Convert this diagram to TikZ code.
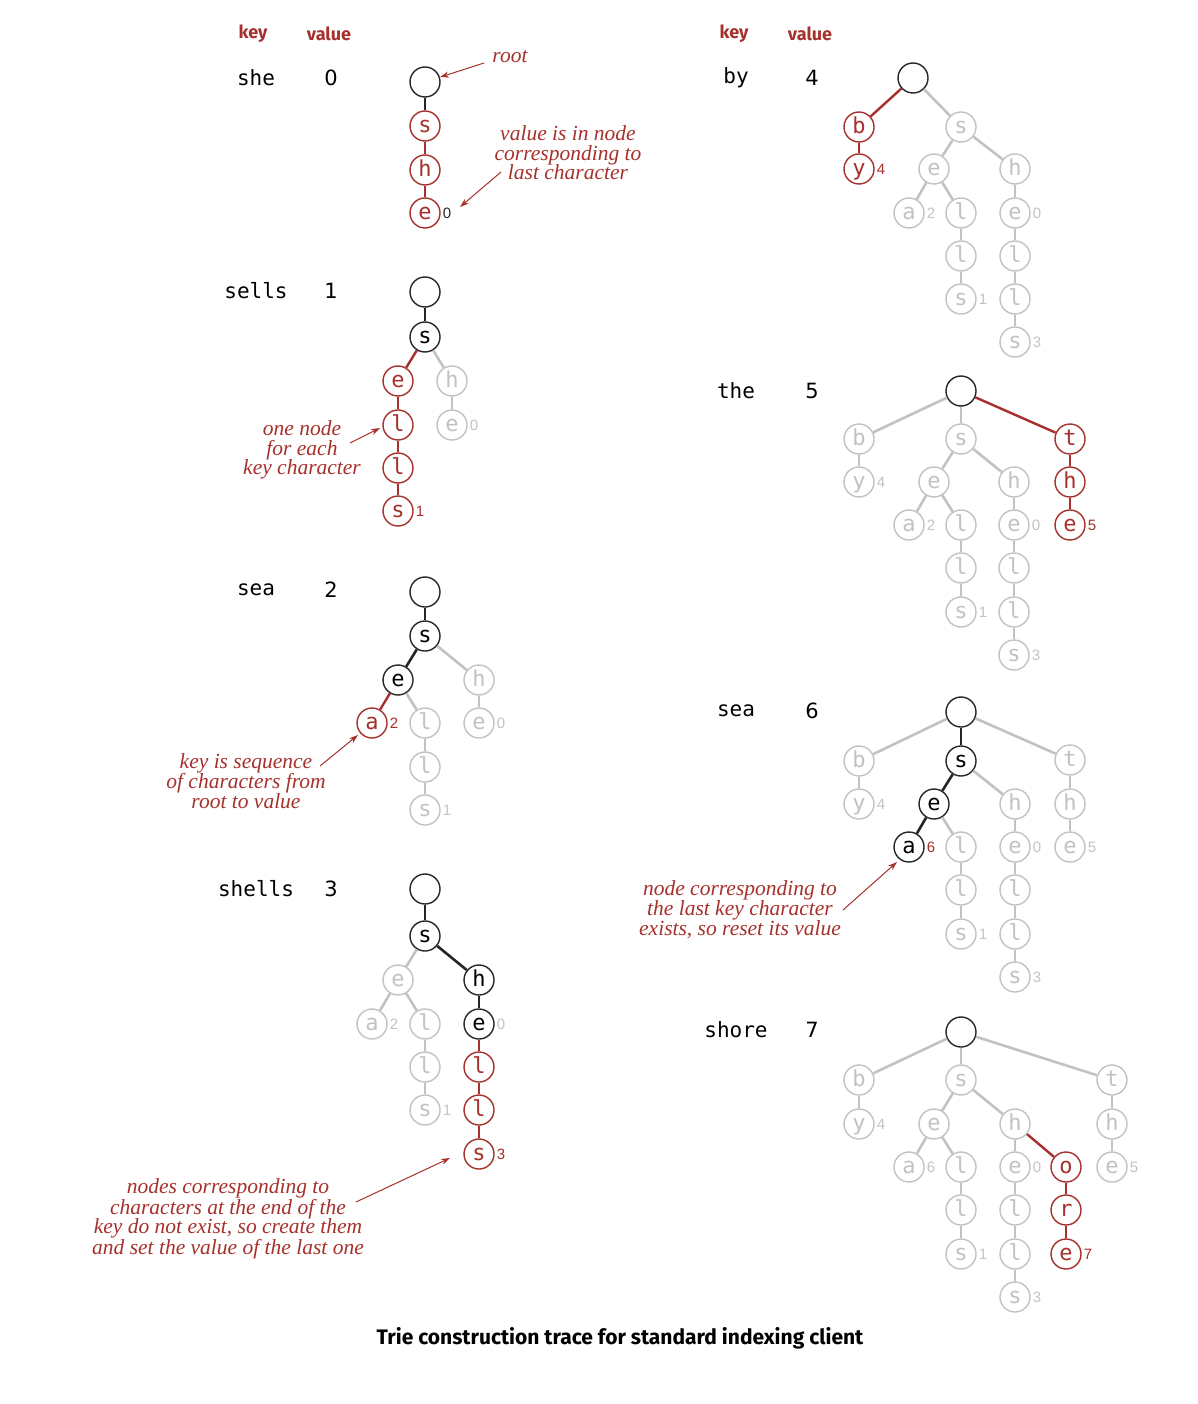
\documentclass[tikz,border=0pt]{standalone}
\usepackage{fontspec}
\setmainfont{Liberation Serif}
\newfontfamily\keyfnt{DejaVu Sans Mono}
\newfontfamily\digfnt{DejaVu Sans}
\newfontfamily\valfnt{Liberation Sans}
\newfontfamily\capfnt{Fira Sans}
\usetikzlibrary{arrows.meta}
\definecolor{trred}{HTML}{A6302B}
\definecolor{trgray}{HTML}{C2C2C2}
\definecolor{trblack}{HTML}{262626}
\begin{document}
\begin{tikzpicture}[x=1pt,y=-1pt,
  nd/.style={circle,minimum size=30pt,inner sep=0pt,line width=1.4pt,fill=white,
    font=\keyfnt\fontsize{22}{24}\selectfont,text height=14.5pt,text depth=1.5pt},
  bk/.style={nd,draw=trblack,text=black},
  rd/.style={nd,draw=trred,text=trred},
  gr/.style={nd,draw=trgray,text=trgray},
  ebk/.style={draw=trblack,line width=2.6pt},
  erd/.style={draw=trred,line width=2.4pt},
  egr/.style={draw=trgray,line width=2.6pt},
  vl/.style={anchor=west,inner sep=2pt,font=\valfnt\fontsize{15}{16}\selectfont},
  vr/.style={vl,text=trred},
  vg/.style={vl,text=trgray},
  vb/.style={vl,text=trblack},
  hdr/.style={font=\capfnt\bfseries\fontsize{18}{20}\selectfont,text=trred},
  kw/.style={font=\keyfnt\fontsize{21}{24}\selectfont,text=black},
  kv/.style={font=\digfnt\fontsize{21}{24}\selectfont,text=black},
  ann/.style={align=center,text=trred,font=\itshape\fontsize{21.5}{19.5}\selectfont,inner sep=0pt},
  arr/.style={draw=trred,line width=1pt,-{Stealth[length=9pt,width=6pt]}}
]
\useasboundingbox (0,0) rectangle (1198,1404);

% ---------- headers ----------
\node[hdr] (hk1) at (253,34) {key};
\node[hdr] (hv1) at (329,34) {value};
\node[hdr] (hk2) at (734,34) {key};
\node[hdr] (hv2) at (810,34) {value};

% ---------- keys and values ----------
\node[kw] (k1) at (256,78) {she};   \node[kv] (v1) at (331,78) {0};
\node[kw] (k2) at (256,291) {sells}; \node[kv] (v2) at (331,291) {1};
\node[kw] (k3) at (256,590) {sea};   \node[kv] (v3) at (331,590) {2};
\node[kw] (k4) at (256,889) {shells};\node[kv] (v4) at (331,889) {3};
\node[kw] (k5) at (736,78) {by};     \node[kv] (v5) at (812,78) {4};
\node[kw] (k6) at (736,391) {the};   \node[kv] (v6) at (812,391) {5};
\node[kw] (k7) at (736,711) {sea};   \node[kv] (v7) at (812,711) {6};
\node[kw] (k8) at (736,1030) {shore};\node[kv] (v8) at (812,1030) {7};

% ---------- tree A: she ----------
\node[bk] (Ar) at (425,82) {};
\node[rd] (As) at (425,126) {s};
\node[rd] (Ah) at (425,170) {h};
\node[rd] (Ae) at (425,213) {e};
\node[vb] (Aev) at (Ae.east) {0};
\draw[ebk] (Ar)--(As);
\draw[erd] (As)--(Ah);
\draw[erd] (Ah)--(Ae);

% ---------- tree B: sells ----------
\node[bk] (Br) at (425,292) {};
\node[bk] (Bs) at (425,337) {s};
\node[rd] (Be) at (398,381) {e};
\node[gr] (Bh) at (452,381) {h};
\node[rd] (Bl1) at (398,425) {l};
\node[gr] (Be2) at (452,425) {e};
\node[rd] (Bl2) at (398,468) {l};
\node[rd] (Bs2) at (398,511) {s};
\node[vg] (Be2v) at (Be2.east) {0};
\node[vr] (Bs2v) at (Bs2.east) {1};
\draw[ebk] (Br)--(Bs);
\draw[erd] (Bs)--(Be);
\draw[egr] (Bs)--(Bh);
\draw[egr] (Bh)--(Be2);
\draw[erd] (Be)--(Bl1);
\draw[erd] (Bl1)--(Bl2);
\draw[erd] (Bl2)--(Bs2);

% ---------- tree C: sea 2 ----------
\node[bk] (Cr) at (425,592) {};
\node[bk] (Cs) at (425,636) {s};
\node[bk] (Ce) at (398,680) {e};
\node[gr] (Ch) at (479,680) {h};
\node[rd] (Ca) at (372,723) {a};
\node[gr] (Cl1) at (425,723) {l};
\node[gr] (Ce2) at (479,723) {e};
\node[gr] (Cl2) at (425,767) {l};
\node[gr] (Cs2) at (425,810) {s};
\node[vr] (Cav) at (Ca.east) {2};
\node[vg] (Ce2v) at (Ce2.east) {0};
\node[vg] (Cs2v) at (Cs2.east) {1};
\draw[ebk] (Cr)--(Cs);
\draw[ebk] (Cs)--(Ce);
\draw[egr] (Cs)--(Ch);
\draw[erd] (Ce)--(Ca);
\draw[egr] (Ce)--(Cl1);
\draw[egr] (Ch)--(Ce2);
\draw[egr] (Cl1)--(Cl2);
\draw[egr] (Cl2)--(Cs2);

% ---------- tree D: shells ----------
\node[bk] (Dr) at (425,889) {};
\node[bk] (Ds) at (425,936) {s};
\node[gr] (De) at (398,980) {e};
\node[bk] (Dh) at (479,980) {h};
\node[gr] (Da) at (372,1024) {a};
\node[gr] (Dl1) at (425,1024) {l};
\node[bk] (De2) at (479,1024) {e};
\node[gr] (Dl2) at (425,1067) {l};
\node[gr] (Ds2) at (425,1110) {s};
\node[rd] (Dl3) at (479,1067) {l};
\node[rd] (Dl4) at (479,1110) {l};
\node[rd] (Ds3) at (479,1154) {s};
\node[vg] (Dav) at (Da.east) {2};
\node[vg] (De2v) at (De2.east) {0};
\node[vg] (Ds2v) at (Ds2.east) {1};
\node[vr] (Ds3v) at (Ds3.east) {3};
\draw[ebk] (Dr)--(Ds);
\draw[egr] (Ds)--(De);
\draw[ebk] (Ds)--(Dh);
\draw[ebk] (Dh)--(De2);
\draw[egr] (De)--(Da);
\draw[egr] (De)--(Dl1);
\draw[egr] (Dl1)--(Dl2);
\draw[egr] (Dl2)--(Ds2);
\draw[erd] (De2)--(Dl3);
\draw[erd] (Dl3)--(Dl4);
\draw[erd] (Dl4)--(Ds3);

% ---------- tree E: by ----------
\node[bk] (Er) at (913,78) {};
\node[rd] (Eb) at (859,127) {b};
\node[gr] (Es) at (961,127) {s};
\node[rd] (Ey) at (859,169) {y};
\node[gr] (Ee) at (934,169) {e};
\node[gr] (Eh) at (1015,169) {h};
\node[gr] (Ea) at (909,213) {a};
\node[gr] (El1) at (961,213) {l};
\node[gr] (Ee2) at (1015,213) {e};
\node[gr] (El2) at (961,256) {l};
\node[gr] (El3) at (1015,256) {l};
\node[gr] (Es2) at (961,299) {s};
\node[gr] (El4) at (1015,299) {l};
\node[gr] (Es3) at (1015,342) {s};
\node[vr] (Eyv) at (Ey.east) {4};
\node[vg] (Eav) at (Ea.east) {2};
\node[vg] (Ee2v) at (Ee2.east) {0};
\node[vg] (Es2v) at (Es2.east) {1};
\node[vg] (Es3v) at (Es3.east) {3};
\draw[erd] (Er)--(Eb);
\draw[erd] (Eb)--(Ey);
\draw[egr] (Er)--(Es);
\draw[egr] (Es)--(Ee);
\draw[egr] (Es)--(Eh);
\draw[egr] (Ee)--(Ea);
\draw[egr] (Ee)--(El1);
\draw[egr] (El1)--(El2);
\draw[egr] (El2)--(Es2);
\draw[egr] (Eh)--(Ee2);
\draw[egr] (Ee2)--(El3);
\draw[egr] (El3)--(El4);
\draw[egr] (El4)--(Es3);

% ---------- tree F: the ----------
\node[bk] (Fr) at (961,391) {};
\node[gr] (Fb) at (859,439) {b};
\node[gr] (Fs) at (961,439) {s};
\node[rd] (Ft) at (1070,439) {t};
\node[gr] (Fy) at (859,482) {y};
\node[gr] (Fe) at (934,482) {e};
\node[gr] (Fh) at (1014,482) {h};
\node[rd] (Fth) at (1070,482) {h};
\node[gr] (Fa) at (909,525) {a};
\node[gr] (Fl1) at (961,525) {l};
\node[gr] (Fe2) at (1014,525) {e};
\node[rd] (Fte) at (1070,525) {e};
\node[gr] (Fl2) at (961,568) {l};
\node[gr] (Fl3) at (1014,568) {l};
\node[gr] (Fs2) at (961,612) {s};
\node[gr] (Fl4) at (1014,612) {l};
\node[gr] (Fs3) at (1014,655) {s};
\node[vg] (Fyv) at (Fy.east) {4};
\node[vg] (Fav) at (Fa.east) {2};
\node[vg] (Fe2v) at (Fe2.east) {0};
\node[vr] (Ftev) at (Fte.east) {5};
\node[vg] (Fs2v) at (Fs2.east) {1};
\node[vg] (Fs3v) at (Fs3.east) {3};
\draw[egr] (Fr)--(Fb);
\draw[egr] (Fr)--(Fs);
\draw[erd] (Fr)--(Ft);
\draw[egr] (Fb)--(Fy);
\draw[egr] (Fs)--(Fe);
\draw[egr] (Fs)--(Fh);
\draw[erd] (Ft)--(Fth);
\draw[erd] (Fth)--(Fte);
\draw[egr] (Fe)--(Fa);
\draw[egr] (Fe)--(Fl1);
\draw[egr] (Fl1)--(Fl2);
\draw[egr] (Fl2)--(Fs2);
\draw[egr] (Fh)--(Fe2);
\draw[egr] (Fe2)--(Fl3);
\draw[egr] (Fl3)--(Fl4);
\draw[egr] (Fl4)--(Fs3);

% ---------- tree G: sea 6 ----------
\node[bk] (Gr) at (961,712) {};
\node[gr] (Gb) at (859,761) {b};
\node[bk] (Gs) at (961,761) {s};
\node[gr] (Gt) at (1070,760) {t};
\node[gr] (Gy) at (859,804) {y};
\node[bk] (Ge) at (934,804) {e};
\node[gr] (Gh) at (1015,804) {h};
\node[gr] (Gth) at (1070,804) {h};
\node[bk] (Ga) at (909,847) {a};
\node[gr] (Gl1) at (961,847) {l};
\node[gr] (Ge2) at (1015,847) {e};
\node[gr] (Gte) at (1070,847) {e};
\node[gr] (Gl2) at (961,890) {l};
\node[gr] (Gl3) at (1015,890) {l};
\node[gr] (Gs2) at (961,934) {s};
\node[gr] (Gl4) at (1015,934) {l};
\node[gr] (Gs3) at (1015,977) {s};
\node[vg] (Gyv) at (Gy.east) {4};
\node[vr] (Gav) at (Ga.east) {6};
\node[vg] (Ge2v) at (Ge2.east) {0};
\node[vg] (Gtev) at (Gte.east) {5};
\node[vg] (Gs2v) at (Gs2.east) {1};
\node[vg] (Gs3v) at (Gs3.east) {3};
\draw[egr] (Gr)--(Gb);
\draw[ebk] (Gr)--(Gs);
\draw[egr] (Gr)--(Gt);
\draw[egr] (Gb)--(Gy);
\draw[ebk] (Gs)--(Ge);
\draw[egr] (Gs)--(Gh);
\draw[egr] (Gt)--(Gth);
\draw[egr] (Gth)--(Gte);
\draw[ebk] (Ge)--(Ga);
\draw[egr] (Ge)--(Gl1);
\draw[egr] (Gl1)--(Gl2);
\draw[egr] (Gl2)--(Gs2);
\draw[egr] (Gh)--(Ge2);
\draw[egr] (Ge2)--(Gl3);
\draw[egr] (Gl3)--(Gl4);
\draw[egr] (Gl4)--(Gs3);

% ---------- tree H: shore ----------
\node[bk] (Hr) at (961,1032) {};
\node[gr] (Hb) at (859,1080) {b};
\node[gr] (Hs) at (961,1080) {s};
\node[gr] (Ht) at (1112,1080) {t};
\node[gr] (Hy) at (859,1124) {y};
\node[gr] (He) at (934,1124) {e};
\node[gr] (Hh) at (1015,1124) {h};
\node[gr] (Hth) at (1112,1124) {h};
\node[gr] (Ha) at (909,1167) {a};
\node[gr] (Hl1) at (961,1167) {l};
\node[gr] (He2) at (1015,1167) {e};
\node[rd] (Ho) at (1066,1167) {o};
\node[gr] (Hte) at (1112,1167) {e};
\node[gr] (Hl2) at (961,1210) {l};
\node[gr] (Hl3) at (1015,1210) {l};
\node[rd] (Hor) at (1066,1210) {r};
\node[gr] (Hs2) at (961,1254) {s};
\node[gr] (Hl4) at (1015,1254) {l};
\node[rd] (Hore) at (1066,1254) {e};
\node[gr] (Hs3) at (1015,1297) {s};
\node[vg] (Hyv) at (Hy.east) {4};
\node[vg] (Hav) at (Ha.east) {6};
\node[vg] (He2v) at (He2.east) {0};
\node[vg] (Htev) at (Hte.east) {5};
\node[vr] (Horev) at (Hore.east) {7};
\node[vg] (Hs2v) at (Hs2.east) {1};
\node[vg] (Hs3v) at (Hs3.east) {3};
\draw[egr] (Hr)--(Hb);
\draw[egr] (Hr)--(Hs);
\draw[egr] (Hr)--(Ht);
\draw[egr] (Hb)--(Hy);
\draw[egr] (Hs)--(He);
\draw[egr] (Hs)--(Hh);
\draw[egr] (Ht)--(Hth);
\draw[egr] (Hth)--(Hte);
\draw[egr] (He)--(Ha);
\draw[egr] (He)--(Hl1);
\draw[egr] (Hl1)--(Hl2);
\draw[egr] (Hl2)--(Hs2);
\draw[egr] (Hh)--(He2);
\draw[egr] (He2)--(Hl3);
\draw[egr] (Hl3)--(Hl4);
\draw[egr] (Hl4)--(Hs3);
\draw[erd] (Hh)--(Ho);
\draw[erd] (Ho)--(Hor);
\draw[erd] (Hor)--(Hore);

% ---------- annotations ----------
\node[ann] (n1) at (510,57) {root};
\coordinate (n1a) at (484,63);
\draw[arr] (n1a) -- (Ar);

\node[ann] (n2) at (568,153) {value is in node\\corresponding to\\last character};
\coordinate (n2a) at (501,172);
\coordinate (n2b) at (460,207);
\draw[arr] (n2a) -- (n2b);

\node[ann] (n3) at (302,450) {one node\\for each\\key character};
\coordinate (n3a) at (350,443);
\coordinate (n3b) at (380,428);
\draw[arr] (n3a) -- (n3b);

\node[ann] (n4) at (246,781) {key is sequence\\of characters from\\root to value};
\coordinate (n4a) at (320,766);
\coordinate (n4b) at (358,735);
\draw[arr] (n4a) -- (n4b);

\node[ann] (n5) at (228,1219) {nodes corresponding to\\characters at the end of the\\key do not exist, so create them\\and set the value of the last one};
\coordinate (n5a) at (356,1202);
\coordinate (n5b) at (450,1158);
\draw[arr] (n5a) -- (n5b);

\node[ann] (n6) at (740,910) {node corresponding to\\the last key character\\exists, so reset its value};
\coordinate (n6a) at (843,910);
\coordinate (n6b) at (897,862);
\draw[arr] (n6a) -- (n6b);

% ---------- caption ----------
\node[font=\capfnt\bfseries\fontsize{21}{23}\selectfont,text=black] (cap) at (620,1338)
  {Trie construction trace for standard indexing client};
\end{tikzpicture}
\end{document}
